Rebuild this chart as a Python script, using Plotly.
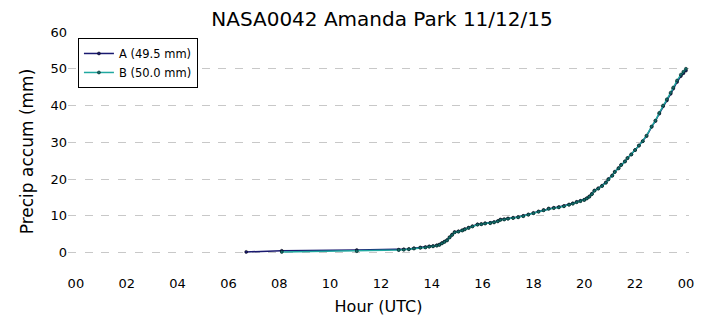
import plotly.graph_objects as go

# Series A (hours UTC, accumulated precip mm)
hours_a = [6.7, 8.1, 11.05, 12.7, 12.9, 13.1, 13.3, 13.55, 13.75, 13.9, 14.05, 14.2, 14.3, 14.4,
           14.5, 14.6, 14.7, 14.8, 14.9, 15.05, 15.2, 15.3, 15.45, 15.6, 15.8, 15.95, 16.1,
           16.3, 16.45, 16.6, 16.7, 16.85, 17.0, 17.2, 17.4, 17.6, 17.8, 18.0, 18.2, 18.4,
           18.6, 18.8, 19.0, 19.2, 19.4, 19.55, 19.7, 19.85, 20.0, 20.1, 20.2, 20.3, 20.4,
           20.55, 20.7, 20.85, 20.95, 21.1, 21.2, 21.35, 21.45, 21.6, 21.7, 21.85, 22.0,
           22.15, 22.3, 22.45, 22.65, 22.8, 22.95, 23.1, 23.25, 23.4, 23.5, 23.65, 23.8,
           23.9, 24.0]
precip_a = [0.2, 0.5, 0.7, 0.8, 0.9, 1.0, 1.2, 1.4, 1.5, 1.7, 1.8, 2.0, 2.2, 2.6,
            3.0, 3.4, 4.2, 4.9, 5.6, 5.8, 6.1, 6.4, 6.8, 7.2, 7.7, 7.8, 8.0,
            8.1, 8.3, 8.6, 9.0, 9.1, 9.3, 9.5, 9.7, 10.0, 10.4, 10.8, 11.2, 11.6,
            12.0, 12.2, 12.4, 12.7, 13.1, 13.4, 13.8, 14.1, 14.4, 14.8, 15.3, 16.0, 16.9,
            17.5, 18.2, 19.1, 20.0, 21.0, 22.0, 23.0, 23.9, 24.8, 25.7, 26.7, 27.9,
            29.1, 30.3, 31.7, 34.2, 35.8, 37.8, 39.8, 41.4, 43.2, 44.6, 46.4, 48.0,
            48.8, 49.5]

# Series B
hours_b = [8.1, 11.05, 12.7, 12.9, 13.1, 13.3, 13.55, 13.75, 13.9, 14.05, 14.2, 14.3, 14.4,
           14.5, 14.6, 14.7, 14.8, 14.9, 15.05, 15.2, 15.3, 15.45, 15.6, 15.8, 15.95, 16.1,
           16.3, 16.45, 16.6, 16.7, 16.85, 17.0, 17.2, 17.4, 17.6, 17.8, 18.0, 18.2, 18.4,
           18.6, 18.8, 19.0, 19.2, 19.4, 19.55, 19.7, 19.85, 20.0, 20.1, 20.2, 20.3, 20.4,
           20.55, 20.7, 20.85, 20.95, 21.1, 21.2, 21.35, 21.45, 21.6, 21.7, 21.85, 22.0,
           22.15, 22.3, 22.45, 22.65, 22.8, 22.95, 23.1, 23.25, 23.4, 23.5, 23.65, 23.8,
           23.9, 24.0]
precip_b = [0.2, 0.4, 0.7, 0.8, 0.9, 1.1, 1.3, 1.4, 1.6, 1.7, 1.9, 2.1, 2.5,
            2.9, 3.3, 4.1, 4.8, 5.5, 5.7, 6.0, 6.3, 6.7, 7.1, 7.6, 7.7, 7.9,
            8.0, 8.2, 8.5, 8.9, 9.0, 9.2, 9.4, 9.6, 9.9, 10.3, 10.7, 11.1, 11.5,
            11.9, 12.1, 12.3, 12.6, 13.0, 13.3, 13.7, 14.0, 14.3, 14.7, 15.2, 15.9, 16.8,
            17.4, 18.1, 19.0, 19.9, 20.9, 21.9, 22.9, 23.8, 24.8, 25.7, 26.7, 27.9,
            29.1, 30.3, 31.8, 34.3, 35.9, 38.0, 40.0, 41.7, 43.5, 44.9, 46.8, 48.4,
            49.2, 50.0]

label_a = "A (49.5 mm)"
label_b = "B (50.0 mm)"

tick_vals = [0, 2, 4, 6, 8, 10, 12, 14, 16, 18, 20, 22, 24]
tick_text = ["00", "02", "04", "06", "08", "10", "12", "14", "16", "18", "20", "22", "00"]
y_ticks = [0, 10, 20, 30, 40, 50, 60]

FONT = "DejaVu Sans"

fig = go.Figure()
fig.add_trace(go.Scatter(
    x=hours_a, y=precip_a, name=label_a, mode="lines+markers",
    line=dict(color="#191970", width=1.5),
    marker=dict(color="#191970", size=3, line=dict(color="#000000", width=0.5)),
))
fig.add_trace(go.Scatter(
    x=hours_b, y=precip_b, name=label_b, mode="lines+markers",
    line=dict(color="#20a8a0", width=1.5),
    marker=dict(color="#146e6a", size=3, line=dict(color="#002020", width=0.6)),
))

fig.update_layout(
    width=706, height=326,
    margin=dict(l=68, r=15, t=32, b=55),
    paper_bgcolor="white", plot_bgcolor="white",
    font=dict(family=FONT, color="black", size=13),
    title=dict(text="NASA0042 Amanda Park 11/12/15", x=(76 + 688) / 2 / 706, xanchor="center",
               y=1 - 19 / 326, yanchor="middle", yref="container",
               font=dict(family=FONT, size=20, color="black")),
    showlegend=True,
    legend=dict(x=0.016, y=0.975, xanchor="left", yanchor="top",
                bordercolor="black", borderwidth=1, bgcolor="white",
                font=dict(family=FONT, size=11.5), itemwidth=30,
                tracegroupgap=2),
    xaxis=dict(range=[-0.31, 24.12], tickvals=tick_vals, ticktext=tick_text,
               showgrid=False, zeroline=False, showline=False, ticks="",
               ticklabelstandoff=3,
               tickfont=dict(size=13),
               title=dict(text="Hour (UTC)", font=dict(size=16), standoff=10)),
    yaxis=dict(range=[-5, 60], tickvals=y_ticks, showgrid=True,
               gridcolor="#c8c8c8", griddash="8px,8.7px", gridwidth=1,
               zeroline=False, showline=False, ticks="",
               tickfont=dict(size=13),
               title=dict(text="Precip accum (mm)", font=dict(size=17), standoff=12)),
)

fig.write_html("out.html")
